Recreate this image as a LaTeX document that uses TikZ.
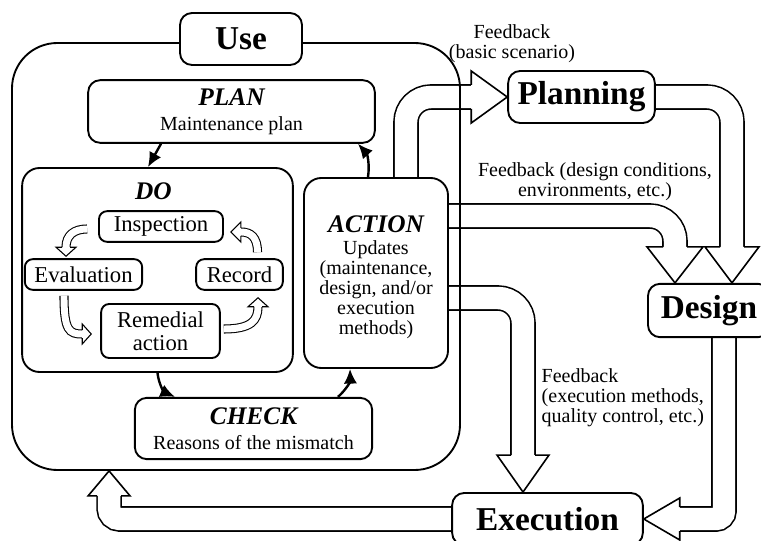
\documentclass[tikz,border=0pt]{standalone}
\usepackage{fontspec}
\setmainfont{Liberation Serif}
\usetikzlibrary{arrows.meta,calc,backgrounds}

\newcommand{\phasename}[1]{{\fontsize{19}{19}\selectfont\bfseries\itshape #1}}

\begin{document}
\begin{tikzpicture}[x=0.75pt,y=0.75pt,
  box/.style={draw,line width=1.4pt,fill=white,rounded corners=9pt,inner sep=0pt,align=center},
  frame/.style={draw,line width=1.4pt,rounded corners=34pt,inner sep=0pt},
  stage/.style={box,font=\fontsize{25}{25}\selectfont\bfseries,minimum height=39pt},
  phase/.style={box,font=\fontsize{15}{19}\selectfont},
  task/.style={box,rounded corners=6pt,font=\fontsize{17}{17}\selectfont,minimum height=23pt},
  note/.style={font=\fontsize{15}{15}\selectfont,align=center},
  flow/.style={line width=1.8pt,-{Latex[length=11pt,width=10pt]}},
  fat/.style={line width=1.2pt,double=white,double distance=16.8pt,rounded corners=18.75pt},
  slim/.style={line width=0.8pt,double=white,double distance=5.2pt},
  pics/fathead/.style n args={3}{code={
    \filldraw[fill=white,line join=miter] (0,-#1) -- (0,-#2) -- (#3,0) -- (0,#2) -- (0,#1);
  }}
]
  \useasboundingbox (0,0) rectangle (761,540);
  \clip (0,0) rectangle (761,540);

  % use phase with the PDCA cycle
  \node[frame,minimum width=336pt,minimum height=320.25pt] (usearea) at (236,283.5) {};
  \node[stage,minimum width=91.5pt] (use) at (241,501) {Use};
  \node[phase,minimum width=215pt,minimum height=47pt] (plan) at (231.5,428.5)
    {\phasename{PLAN}\\Maintenance plan};
  \node[box,rounded corners=13pt,minimum width=203pt,minimum height=153pt] (do) at (157.5,270) {};
  \node[note] (dotitle) at ($(do.north)+(-4,-24)$) {\phasename{DO}};
  \node[task,minimum width=93pt] (inspection) at (161,313.5) {Inspection};
  \node[task,minimum width=88pt] (evaluation) at (83.5,265.5) {Evaluation};
  \node[task,minimum width=65pt] (record) at (239.5,265.5) {Record};
  \node[task,minimum width=89pt,minimum height=40.5pt] (remedial) at (160.5,209) {Remedial\\action};
  \node[phase,minimum width=178pt,minimum height=46pt] (check) at (253.5,111.5)
    {\phasename{CHECK}\\Reasons of the mismatch};
  \node[phase,rounded corners=13pt,font=\fontsize{15}{15}\selectfont,
    minimum width=108pt,minimum height=142.5pt] (action) at (376,267)
    {\rule{0pt}{19pt}\phasename{ACTION}\\[1pt]Updates\\(maintenance,\\design, and/or\\execution\\methods)};

  % other phases
  \node[stage,minimum width=110pt] (planning) at (581.5,443) {Planning};
  \node[stage,minimum width=91.5pt,minimum height=40pt] (design) at (709,229.5) {Design};
  \node[stage,minimum width=143pt] (execution) at (547.5,21) {Execution};

  \node[note] (fbplanning) at (512,496) {Feedback\\(basic scenario)};
  \node[note] (fbdesign) at (595,358) {Feedback (design conditions,\\environments, etc.)};
  \node[note,align=left,anchor=west] (fbexecution) at (537,142)
    {Feedback\\(execution methods,\\quality control, etc.)};

  % cycle
  \draw[flow] ($(plan.south)+(-70.5,0)$) -- ($(do.north)+(-9.5,0)$);
  \draw[flow] (do.south) to[bend right=30] ($(check.north)+(-78.5,0)$);
  \draw[flow] ($(check.north)+(84.5,0)$) to[bend right=25] ($(action.south)+(-26,0)$);
  \draw[flow] ($(action.north)+(-8,0)$) to[bend right=25] ($(plan.south)+(126.5,0)$);

  % inside DO
  \draw[slim] ($(inspection.west)+(-11,-2.5)$) .. controls +(-13,0) and +(0,12) .. ($(evaluation.north)+(-17.5,11)$);
  \pic[rotate=-90,line width=0.8pt] at ($(evaluation.north)+(-17.5,11)$) {fathead={4}{10}{9}};
  \draw[slim] ($(evaluation.south)+(-19.5,-5)$) .. controls +(0,-35) and +(-13,0) .. ($(remedial.west)+(-18,-3)$);
  \pic[line width=0.8pt] at ($(remedial.west)+(-18,-3)$) {fathead={4}{10}{9}};
  \draw[slim] ($(remedial.east)+(3,2)$) .. controls +(27,0) and +(0,-14) .. ($(record.south)+(18.5,-16)$);
  \pic[rotate=90,line width=0.8pt] at ($(record.south)+(18.5,-16)$) {fathead={4}{10}{9}};
  \draw[slim] ($(record.north)+(18,6)$) .. controls +(0,15) and +(10,0) .. ($(inspection.east)+(17,-5.5)$);
  \pic[rotate=180,line width=0.8pt] at ($(inspection.east)+(17,-5.5)$) {fathead={4}{10}{10}};

  % feedback arrows
  \begin{scope}[on background layer]
    \draw[fat] ($(action.north)+(30,0)$) |- ($(planning.west)+(-36,0)$);
    \pic[line width=1.2pt] at ($(planning.west)+(-36,0)$) {fathead={12}{26}{36}};
    \draw[fat] (planning.east) -| ($(design.north)+(23,36)$);
    \pic[rotate=-90,line width=1.2pt] at ($(design.north)+(23,36)$) {fathead={12}{27}{36}};
    \draw[fat] ($(action.east)+(0,57)$) -| ($(design.north)+(-34,36)$);
    \pic[rotate=-90,line width=1.2pt] at ($(design.north)+(-34,36)$) {fathead={12}{28}{36}};
    \draw[fat] ($(action.east)+(0,-25)$) -| ($(execution.north)+(-24.5,37)$);
    \pic[rotate=-90,line width=1.2pt] at ($(execution.north)+(-24.5,37)$) {fathead={12}{26}{37}};
    \draw[fat,rounded corners=6pt] ($(design.south)+(15,0)$) |- ($(execution.east)+(36,0)$);
    \pic[rotate=180,line width=1.2pt] at ($(execution.east)+(36,0)$) {fathead={12}{21}{36}};
    \draw[fat,rounded corners=8pt] (execution.west) -| ($(usearea.south west)+(98,-25)$);
    \pic[rotate=90,line width=1.2pt] at ($(usearea.south west)+(98,-25)$) {fathead={12}{21}{25}};
  \end{scope}
\end{tikzpicture}
\end{document}
